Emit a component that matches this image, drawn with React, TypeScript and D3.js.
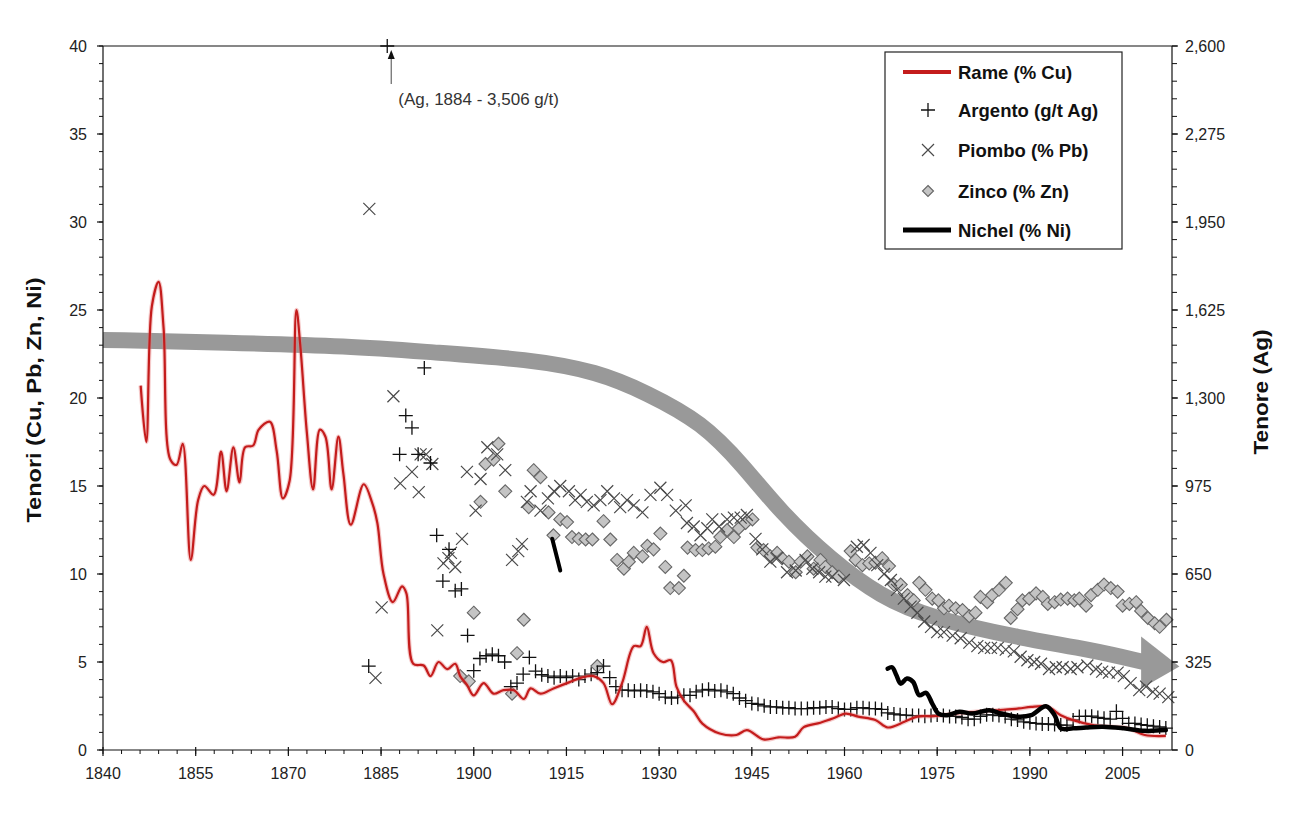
import React from "react";
import * as d3 from "d3";

const W = 1299;
const H = 817;
const PLOT = { left: 103, right: 1172, top: 46, bottom: 750 };

// Rame (% Cu)
const copperYears = [
  1846.1, 1847.0, 1847.9, 1849.0, 1849.8, 1850.9, 1851.9, 1852.9, 1854.2, 1855.4,
  1856.4, 1857.9, 1859.1, 1860.0, 1861.1, 1862.1, 1863.0, 1864.3, 1865.2, 1867.0,
  1868.1, 1869.1, 1870.2, 1871.3, 1871.9, 1873.0, 1874.0, 1875.1, 1876.0, 1877.0,
  1878.1, 1878.9, 1880.1, 1882.2, 1883.6, 1884.4, 1885.4, 1886.9, 1888.4, 1889.1,
  1890.2, 1891.9, 1893.0, 1894.3, 1895.7, 1897.0, 1897.8, 1898.9, 1900.0, 1901.6,
  1903.2, 1904.8, 1906.5, 1908.1, 1909.2, 1910.8, 1912.9, 1915.1, 1917.3, 1919.4,
  1921.0, 1922.4, 1924.0, 1925.9, 1927.0, 1928.0, 1929.1, 1930.6, 1931.9, 1932.8,
  1934.0, 1935.6, 1937.0, 1939.8, 1942.5, 1944.2, 1946.9, 1949.3, 1952.0, 1953.4,
  1956.1, 1958.2, 1960.2, 1962.2, 1965.0, 1967.0, 1969.7, 1971.8, 1974.5, 1977.9,
  1981.3, 1984.7, 1988.2, 1990.2, 1992.9, 1995.0, 1997.0, 2000.4, 2003.2, 2005.9,
  2008.6, 2012.0,
];
const copperValues = [
  20.7, 17.5, 25.2, 26.6, 24.0, 16.5, 16.2, 17.4, 10.8, 14.2,
  15.0, 14.5, 16.95, 14.7, 17.2, 15.2, 17.2, 17.3, 18.2, 18.65,
  17.0, 14.3, 15.3, 25.0, 23.1, 18.0, 14.8, 18.2, 17.8, 14.8,
  17.8, 15.7, 12.8, 15.1, 14.0, 12.9, 10.0, 8.4, 9.3, 8.9,
  4.9, 4.8, 4.2, 5.0, 4.6, 4.9, 4.2, 3.7, 3.1, 3.8,
  3.2, 3.4, 3.4, 2.9, 3.5, 3.2, 3.5, 3.8, 4.1, 4.2,
  3.8, 2.6, 3.8, 5.9, 5.9, 7.0, 5.5, 5.0, 5.1, 3.6,
  2.8, 2.2, 1.5, 0.94, 0.85, 1.13, 0.6, 0.72, 0.75, 1.3,
  1.55, 1.8, 2.07, 1.9, 1.7, 1.28, 1.6, 1.9, 1.92, 2.07,
  2.17, 2.26, 2.36, 2.45, 2.45, 1.98, 1.7, 1.4, 1.32, 1.23,
  0.85, 0.8,
];

// Argento (g/t Ag) - right axis
const silverYears = [
  1883, 1886, 1888, 1889, 1890, 1891, 1892, 1893, 1894, 1895, 1896, 1897, 1898, 1899,
  1900, 1901, 1902, 1903, 1904, 1905, 1906, 1907, 1908, 1909, 1910, 1911, 1912, 1913,
  1914, 1915, 1916, 1917, 1918, 1919, 1920, 1921, 1922, 1923, 1924, 1925, 1926, 1927,
  1928, 1929, 1930, 1931, 1932, 1933, 1934, 1935, 1936, 1937, 1938, 1939, 1940, 1941,
  1942, 1943, 1944, 1945, 1946, 1947, 1948, 1949, 1950, 1951, 1952, 1953, 1954, 1955,
  1956, 1957, 1958, 1959, 1960, 1961, 1962, 1963, 1964, 1965, 1966, 1967, 1968, 1969,
  1970, 1971, 1972, 1973, 1974, 1975, 1976, 1977, 1978, 1979, 1980, 1981, 1982, 1983,
  1984, 1985, 1986, 1987, 1988, 1989, 1990, 1991, 1992, 1993, 1994, 1995, 1996, 1997,
  1998, 1999, 2000, 2001, 2002, 2003, 2004, 2005, 2006, 2007, 2008, 2009, 2010, 2011,
  2012,
];
const silverValues = [
  310, 3506, 1092, 1235, 1190, 1092, 1411, 1060, 793, 624, 741, 588, 595, 423,
  293, 338, 348, 354, 348, 325, 234, 247, 280, 342, 291, 278, 273, 267,
  273, 267, 273, 260, 273, 280, 286, 310, 267, 234, 221, 221, 218, 221,
  218, 215, 208, 195, 192, 195, 202, 202, 215, 221, 224, 218, 221, 215,
  208, 192, 182, 172, 169, 163, 159, 159, 156, 156, 153, 153, 153, 156,
  156, 159, 159, 153, 150, 150, 156, 156, 153, 153, 150, 137, 133, 130,
  129, 127, 127, 125, 127, 129, 127, 124, 124, 120, 114, 114, 124, 130,
  130, 127, 124, 114, 111, 104, 101, 98, 96, 96, 94, 92, 92, 111,
  124, 124, 125, 120, 117, 114, 143, 117, 98, 98, 94, 91, 88, 85,
  81,
];

// Piombo (% Pb)
const leadYears = [
  1883.1, 1884.1, 1885.1, 1887.0, 1888.1, 1890.0, 1891.1, 1891.4, 1892.3, 1893.3,
  1894.1, 1895.1, 1895.9, 1896.3, 1897.0, 1898.1, 1898.9, 1900.3, 1901.1, 1902.2,
  1903.8, 1905.1, 1906.2, 1907.2, 1907.8, 1908.6, 1909.2, 1910.8, 1912.0, 1913.0,
  1914.0, 1915.4, 1916.4, 1917.3, 1918.3, 1919.4, 1920.5, 1921.6, 1922.7, 1923.7,
  1924.8, 1925.9, 1927.3, 1928.6, 1930.2, 1931.3, 1932.7, 1934.3, 1934.5, 1935.6,
  1936.7, 1937.8, 1938.6, 1939.7, 1941.0, 1942.1, 1943.2, 1944.2, 1945.6, 1946.7,
  1948.0, 1949.1, 1950.7, 1952.1, 1953.7, 1954.8, 1955.9, 1956.9, 1958.0, 1959.9,
  1962.0, 1963.1, 1964.2, 1965.3, 1966.4, 1967.5, 1968.5, 1969.6, 1970.7, 1971.8,
  1972.9, 1974.0, 1975.0, 1976.1, 1977.5, 1978.8, 1980.2, 1981.5, 1982.6, 1983.7,
  1984.8, 1986.1, 1987.4, 1988.5, 1989.6, 1990.7, 1991.8, 1993.1, 1994.2, 1995.3,
  1996.6, 1997.7, 1999.3, 2000.7, 2001.7, 2002.8, 2004.2, 2005.2, 2006.3, 2007.7,
  2008.8, 2009.9, 2011.0, 2012.4,
];
const leadValues = [
  30.75, 4.1, 8.1, 20.1, 15.15, 15.8, 14.65, 16.8, 16.8, 16.25,
  6.8, 10.6, 10.9, 11.2, 10.4, 12.0, 15.8, 13.6, 15.4, 17.2,
  16.8, 15.9, 10.8, 11.3, 11.7, 14.1, 14.7, 13.6, 14.3, 14.7,
  15.0, 14.7, 14.2, 14.5, 14.1, 13.9, 14.2, 14.7, 14.3, 13.8,
  14.2, 13.9, 13.5, 14.5, 14.9, 14.5, 13.6, 13.9, 12.9, 12.7,
  12.2, 12.6, 13.1, 12.7, 13.1, 13.2, 13.2, 13.35, 12.0, 11.4,
  10.7, 10.9, 10.1, 10.2, 10.8, 10.3, 10.1, 9.85, 9.85, 9.66,
  11.55, 11.65, 11.2, 10.5, 10.0, 9.66, 9.1, 8.6, 8.15, 7.8,
  7.3, 7.0, 6.7, 6.7, 6.5, 6.35, 6.1, 5.9, 5.8, 5.8,
  5.8, 5.7, 5.6, 5.3, 5.1, 5.0, 4.9, 4.6, 4.7, 4.7,
  4.6, 4.7, 4.8, 4.6, 4.45, 4.4, 4.4, 4.2, 3.8, 3.4,
  3.6, 3.3, 3.2, 3.0,
];

// Zinco (% Zn)
const zincYears = [
  1897.8, 1899.2, 1900.0, 1901.1, 1901.9, 1903.2, 1904.0, 1905.1, 1906.2, 1907.0,
  1908.1, 1908.9, 1909.7, 1910.8, 1912.1, 1912.9, 1914.0, 1915.1, 1915.9, 1917.0,
  1918.1, 1919.2, 1920.0, 1921.0, 1922.1, 1923.2, 1924.3, 1925.1, 1925.9, 1927.3,
  1928.1, 1929.1, 1930.2, 1931.0, 1931.8, 1933.2, 1934.0, 1934.6, 1935.9, 1937.0,
  1938.0, 1939.1, 1939.9, 1941.0, 1942.1, 1942.9, 1944.0, 1945.1, 1945.9, 1946.9,
  1948.0, 1949.1, 1949.9, 1951.0, 1952.1, 1952.9, 1954.0, 1955.0, 1956.1, 1956.9,
  1958.0, 1959.1, 1961.0, 1961.8, 1962.9, 1964.0, 1965.0, 1966.1, 1967.2, 1968.0,
  1969.1, 1970.2, 1971.2, 1972.1, 1973.1, 1974.2, 1975.2, 1976.1, 1976.9, 1978.0,
  1979.1, 1980.2, 1981.2, 1982.0, 1983.1, 1983.9, 1985.0, 1986.1, 1986.9, 1988.0,
  1988.8, 1989.9, 1991.0, 1992.1, 1992.9, 1994.0, 1995.0, 1996.1, 1997.2, 1998.0,
  1999.1, 1999.9, 2001.0, 2002.0, 2003.1, 2004.2, 2005.0, 2006.1, 2007.2, 2008.0,
  2009.1, 2010.2, 2011.0, 2012.1,
];
const zincValues = [
  4.2, 3.9, 7.8, 14.1, 16.25, 16.5, 17.4, 14.7, 3.2, 5.5,
  7.4, 13.8, 15.9, 15.5, 13.5, 12.2, 13.1, 12.95, 12.1, 12.0,
  11.96, 11.96, 4.77, 13.0, 11.96, 10.8, 10.3, 10.7, 11.2, 11.0,
  11.6, 11.4, 12.3, 10.4, 9.2, 9.2, 9.9, 11.5, 11.36, 11.36,
  11.45, 11.55, 12.1, 12.5, 12.1, 12.6, 12.9, 13.1, 11.5, 11.36,
  11.0, 11.2, 10.9, 10.7, 10.1, 10.7, 11.0, 10.3, 10.8, 10.4,
  10.1, 9.85, 11.3, 10.8, 10.5, 10.6, 10.64, 10.9, 10.45, 9.4,
  9.4, 8.8, 8.5, 9.5, 9.1, 8.6, 8.5, 8.05, 8.2, 8.05,
  7.95, 7.6, 7.8, 8.7, 8.4, 8.8, 9.1, 9.5, 7.5, 8.0,
  8.5, 8.6, 8.9, 8.7, 8.3, 8.4, 8.55, 8.6, 8.5, 8.6,
  8.2, 8.8, 9.1, 9.4, 9.2, 9.0, 8.2, 8.3, 8.4, 7.9,
  7.5, 7.2, 7.0, 7.4,
];

// Nichel (% Ni): two separate runs
const nickelEarlyYears = [1912.7, 1914.0];
const nickelEarlyValues = [12.0, 10.2];
const nickelYears = [
  1967.0, 1967.7, 1968.4, 1969.1, 1970.1, 1971.1, 1972.1, 1973.2, 1974.2, 1975.2,
  1976.6, 1978.6, 1980.7, 1983.4, 1985.4, 1988.2, 1990.2, 1992.6, 1994.0, 1995.0,
  1997.0, 1999.1, 2001.8, 2005.2, 2008.6, 2012.0,
];
const nickelValues = [
  4.62, 4.7, 4.25, 3.77, 4.06, 3.87, 3.11, 3.25, 2.64, 2.07,
  1.98, 2.17, 2.07, 2.26, 2.07, 1.89, 1.98, 2.49, 1.98, 1.23,
  1.23, 1.28, 1.32, 1.23, 1.09, 1.13,
];

// Grey trend arrow (centre line, in year / % units)
const trendYears = [1840, 1860, 1880, 1893, 1909, 1920, 1928, 1937, 1943.5, 1949.7, 1957.8, 1965.9, 1974, 1988.5, 2000, 2008.4];
const trendValues = [23.3, 23.15, 22.95, 22.6, 22.2, 21.5, 20.3, 18.6, 16.2, 13.5, 10.8, 8.7, 7.5, 6.35, 5.7, 5.0];
const trendHeadYears = [2008.0, 2014.2, 2008.0];
const trendHeadValues = [6.45, 4.75, 3.5];

const xMajorTicks = [1840, 1855, 1870, 1885, 1900, 1915, 1930, 1945, 1960, 1975, 1990, 2005];
const leftMajorTicks = [0, 5, 10, 15, 20, 25, 30, 35, 40];
const rightMajorTicks = [0, 325, 650, 975, 1300, 1625, 1950, 2275, 2600];

const legendLabels = ["Rame (% Cu)", "Argento (g/t Ag)", "Piombo (% Pb)", "Zinco (% Zn)", "Nichel (% Ni)"];

const FONT = "Arial, 'Liberation Sans', Helvetica, sans-serif";

const zip = (xs: number[], ys: number[]) => xs.map((x, i) => [x, ys[i]] as [number, number]);

export default function App() {
  const x = d3.scaleLinear().domain([1840, 2013]).range([PLOT.left, PLOT.right]);
  const yL = d3.scaleLinear().domain([0, 40]).range([PLOT.bottom, PLOT.top]);
  const yR = d3.scaleLinear().domain([0, 2600]).range([PLOT.bottom, PLOT.top]);

  const lineL = d3
    .line<[number, number]>()
    .x((d) => x(d[0]))
    .y((d) => yL(d[1]))
    .curve(d3.curveCatmullRom.alpha(0.5));

  const trendLine = d3
    .line<[number, number]>()
    .x((d) => x(d[0]))
    .y((d) => yL(d[1]))
    .curve(d3.curveBasis);

  const copperPath = lineL(zip(copperYears, copperValues)) || "";
  const nickelPath = lineL(zip(nickelYears, nickelValues)) || "";
  const nickelEarlyPath =
    d3.line<[number, number]>().x((d) => x(d[0])).y((d) => yL(d[1]))(zip(nickelEarlyYears, nickelEarlyValues)) || "";
  const trendPath = trendLine(zip(trendYears, trendValues)) || "";
  const headPts = zip(trendHeadYears, trendHeadValues)
    .map((d) => `${x(d[0])},${yL(d[1])}`)
    .join(" ");

  const xMinor = d3.range(1840, 2014, 3);
  const leftMinor = d3.range(0, 41, 1);
  const rightMinor = d3.range(0, 2601, 65);
  const fmt = d3.format(",");

  const plus = (cx: number, cy: number, r: number) => `M${cx - r},${cy}H${cx + r}M${cx},${cy - r}V${cy + r}`;
  const cross = (cx: number, cy: number, r: number) =>
    `M${cx - r},${cy - r}L${cx + r},${cy + r}M${cx - r},${cy + r}L${cx + r},${cy - r}`;
  const diamond = (cx: number, cy: number, r: number) => `M${cx},${cy - r}L${cx + r},${cy}L${cx},${cy + r}L${cx - r},${cy}Z`;

  const silverTopIdx = silverValues.findIndex((v) => v > 2600);
  const annX = x(silverYears[silverTopIdx]) + 4;
  const annTop = yR(2600);

  const legendY = [72, 110, 150, 191, 230];
  const legX0 = 885,
    legY0 = 52,
    legW = 237,
    legH = 197;
  const symX = 928;

  return (
    <svg
      width={W}
      height={H}
      viewBox={`0 0 ${W} ${H}`}
      style={{ position: "absolute", left: 0, top: 0, background: "#fff" }}
      fontFamily={FONT}
    >
      <rect x={0} y={0} width={W} height={H} fill="#fff" />

      {/* trend arrow */}
      <path d={trendPath} fill="none" stroke="#999999" strokeWidth={16} />
      <polygon points={headPts} fill="#999999" />

      {/* Zn diamonds */}
      <g>
        {zincYears.map((yr, i) => (
          <path key={`zn${i}`} d={diamond(x(yr), yL(zincValues[i]), 6.5)} fill="#c4c4c4" stroke="#666" strokeWidth={1.1} />
        ))}
      </g>

      {/* Pb crosses */}
      <g>
        {leadYears.map((yr, i) => (
          <path key={`pb${i}`} d={cross(x(yr), yL(leadValues[i]), 6)} stroke="#4a4a4a" strokeWidth={1.2} fill="none" />
        ))}
      </g>

      {/* Ag plus */}
      <g>
        {silverYears.map((yr, i) => (
          <path
            key={`ag${i}`}
            d={plus(x(yr), yR(Math.min(silverValues[i], 2600)), 7)}
            stroke="#111"
            strokeWidth={1.3}
            fill="none"
          />
        ))}
      </g>

      {/* Copper line */}
      <path d={copperPath} fill="none" stroke="#e57a7a" strokeOpacity={0.4} strokeWidth={4.5} strokeLinejoin="round" />
      <path d={copperPath} fill="none" stroke="#c41c1c" strokeWidth={2.2} strokeLinejoin="round" />

      {/* Nickel lines */}
      <path d={nickelPath} fill="none" stroke="#000" strokeWidth={4.5} strokeLinejoin="round" strokeLinecap="round" />
      <path d={nickelEarlyPath} fill="none" stroke="#000" strokeWidth={4} strokeLinecap="round" />

      {/* frame */}
      <line x1={PLOT.left} x2={PLOT.right} y1={PLOT.top} y2={PLOT.top} stroke="#111" strokeWidth={1.2} />
      <line x1={PLOT.left} x2={PLOT.left} y1={PLOT.top} y2={PLOT.bottom} stroke="#111" strokeWidth={1.2} />
      <line x1={PLOT.right} x2={PLOT.right} y1={PLOT.top} y2={PLOT.bottom} stroke="#111" strokeWidth={1.2} />
      <line x1={PLOT.left} x2={PLOT.right} y1={PLOT.bottom} y2={PLOT.bottom} stroke="#111" strokeWidth={1.2} />

      {/* x axis ticks */}
      {xMinor.map((t) => (
        <line key={`xm${t}`} x1={x(t)} x2={x(t)} y1={PLOT.bottom} y2={PLOT.bottom + 4} stroke="#111" strokeWidth={1} />
      ))}
      {xMajorTicks.map((t) => (
        <g key={`xM${t}`}>
          <line x1={x(t)} x2={x(t)} y1={PLOT.bottom - 3} y2={PLOT.bottom + 6} stroke="#111" strokeWidth={1.2} />
          <text x={x(t)} y={PLOT.bottom + 29} textAnchor="middle" fontSize={16} fill="#222">
            {t}
          </text>
        </g>
      ))}

      {/* left axis ticks */}
      {leftMinor.map((t) => (
        <line key={`lm${t}`} x1={PLOT.left - 4} x2={PLOT.left} y1={yL(t)} y2={yL(t)} stroke="#111" strokeWidth={1} />
      ))}
      {leftMajorTicks.map((t) => (
        <g key={`lM${t}`}>
          <line x1={PLOT.left - 6} x2={PLOT.left} y1={yL(t)} y2={yL(t)} stroke="#111" strokeWidth={1.2} />
          <text x={PLOT.left - 16} y={yL(t)} dy="0.36em" textAnchor="end" fontSize={16} fill="#222">
            {t}
          </text>
        </g>
      ))}

      {/* right axis ticks */}
      {rightMinor.map((t) => (
        <line key={`rm${t}`} x1={PLOT.right} x2={PLOT.right + 5} y1={yR(t)} y2={yR(t)} stroke="#111" strokeWidth={1} />
      ))}
      {rightMajorTicks.map((t) => (
        <g key={`rM${t}`}>
          <line x1={PLOT.right} x2={PLOT.right + 6} y1={yR(t)} y2={yR(t)} stroke="#111" strokeWidth={1.2} />
          <text x={PLOT.right + 13} y={yR(t)} dy="0.36em" textAnchor="start" fontSize={16} fill="#222">
            {fmt(t)}
          </text>
        </g>
      ))}

      {/* axis titles */}
      <text
        transform={`translate(41, ${(PLOT.top + PLOT.bottom) / 2 + 2}) rotate(-90)`}
        textAnchor="middle"
        fontSize={21}
        fontWeight="bold"
        fill="#111"
        textLength={245}
        lengthAdjust="spacingAndGlyphs"
      >
        Tenori (Cu, Pb, Zn, Ni)
      </text>
      <text
        transform={`translate(1268, 392) rotate(-90)`}
        textAnchor="middle"
        fontSize={21}
        fontWeight="bold"
        fill="#111"
        textLength={125}
        lengthAdjust="spacingAndGlyphs"
      >
        Tenore (Ag)
      </text>

      {/* annotation for off-scale silver value */}
      <line x1={annX} x2={annX} y1={annTop + 38} y2={annTop + 12} stroke="#666" strokeWidth={1.2} />
      <polygon points={`${annX - 3.5},${annTop + 13} ${annX + 3.5},${annTop + 13} ${annX},${annTop + 4}`} fill="#111" />
      <text x={annX + 7} y={annTop + 59} fontSize={17} fill="#333">
        (Ag, 1884 - 3,506 g/t)
      </text>

      {/* legend */}
      <rect x={legX0} y={legY0} width={legW} height={legH} fill="#fff" stroke="#222" strokeWidth={1.2} />
      <line x1={903} x2={951} y1={legendY[0]} y2={legendY[0]} stroke="#c41c1c" strokeWidth={4} />
      <path d={plus(symX, legendY[1], 7)} stroke="#111" strokeWidth={1.3} fill="none" />
      <path d={cross(symX, legendY[2], 6)} stroke="#4a4a4a" strokeWidth={1.2} fill="none" />
      <path d={diamond(symX, legendY[3], 5.5)} fill="#c4c4c4" stroke="#666" strokeWidth={1.1} />
      <line x1={903} x2={951} y1={legendY[4]} y2={legendY[4]} stroke="#000" strokeWidth={5} />
      {legendLabels.map((lab, i) => (
        <text key={lab} x={958} y={legendY[i]} dy="0.36em" fontSize={18.5} fontWeight="bold" fill="#111">
          {lab}
        </text>
      ))}
    </svg>
  );
}
